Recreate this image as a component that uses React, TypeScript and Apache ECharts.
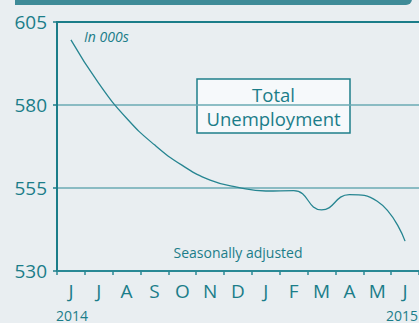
import React, { useEffect, useRef } from "react";
import * as echarts from "echarts";

const months = ["J", "J", "A", "S", "O", "N", "D", "J", "F", "M", "A", "M", "J"];
const unemployment = [599.6, 586.5, 576.0, 568.0, 561.8, 557.4, 555.2, 554.1, 554.2, 548.4, 553.0, 551.0, 539];
const yTicks = { min: 530, max: 605, interval: 25 };
const years = ["2014", "2015"];

const TEAL = "#1b7d89";
const GRID = "#6aaab3";
const FONT = "Open Sans";

export default function App() {
  const ref = useRef<HTMLDivElement>(null);
  useEffect(() => {
    if (!ref.current) return;
    const chart = echarts.init(ref.current, null, { renderer: "svg" });
    chart.setOption({
      animation: false,
      backgroundColor: "#e9eef1",
      grid: { left: 57, top: 22, width: 363, height: 249 },
      xAxis: [
        {
          type: "category",
          data: months,
          boundaryGap: true,
          axisLine: { lineStyle: { color: "#2a8995", width: 2 } },
          axisTick: { show: true, inside: false, length: 4, lineStyle: { color: "#2a8995", width: 1.5 } },
          axisLabel: { color: TEAL, fontFamily: FONT, fontSize: 19, margin: 10, interval: 0 },
        },
        {
          type: "category",
          data: months,
          position: "top",
          axisLine: { lineStyle: { color: TEAL, width: 2 } },
          axisTick: { show: false },
          axisLabel: { show: false },
        },
      ],
      yAxis: {
        type: "value",
        min: yTicks.min,
        max: yTicks.max,
        interval: yTicks.interval,
        axisLine: { show: true, lineStyle: { color: TEAL, width: 2 } },
        axisTick: { show: true, length: 4, lineStyle: { color: TEAL, width: 1.5 } },
        axisLabel: { color: TEAL, fontFamily: FONT, fontSize: 19, margin: 10 },
        splitLine: { show: true, lineStyle: { color: GRID, width: 1.5 } },
      },
      series: [
        {
          type: "line",
          data: unemployment,
          smooth: 0.5,
          symbol: "none",
          lineStyle: { color: "#268591", width: 1.3 },
        },
      ],
      graphic: [
        {
          type: "rect",
          shape: { x: 15, y: -6, width: 397, height: 11, r: [0, 0, 6, 0] },
          style: { fill: "#3f8b98" },
        },
        {
          type: "text",
          left: 84,
          top: 29,
          style: { text: "In 000s", fill: TEAL, font: `italic 14px "${FONT}"` },
        },
        {
          type: "rect",
          shape: { x: 197, y: 79, width: 153, height: 54 },
          style: { fill: "#f6f9fb", stroke: "#1f7f8a", lineWidth: 1.5 },
        },
        {
          type: "text",
          x: 273.5,
          y: 94,
          style: { text: "Total", fill: TEAL, font: `18.5px "${FONT}"`, lineHeight: 19, align: "center", verticalAlign: "middle" },
        },
        {
          type: "text",
          x: 273.5,
          y: 118,
          style: { text: "Unemployment", fill: TEAL, font: `18.5px "${FONT}"`, lineHeight: 19, align: "center", verticalAlign: "middle" },
        },
        {
          type: "text",
          x: 238,
          y: 252,
          style: { text: "Seasonally adjusted", fill: TEAL, font: `14px "${FONT}"`, align: "center", verticalAlign: "middle" },
        },
        {
          type: "text",
          x: 56,
          y: 308,
          style: { text: years[0], fill: TEAL, font: `14px "${FONT}"` },
        },
        {
          type: "text",
          x: 386,
          y: 308,
          style: { text: years[1], fill: TEAL, font: `14px "${FONT}"` },
        },
      ],
    });
    return () => chart.dispose();
  }, []);
  return <div ref={ref} style={{ position: "fixed", left: 0, top: 0, width: 419, height: 323 }} />;
}
